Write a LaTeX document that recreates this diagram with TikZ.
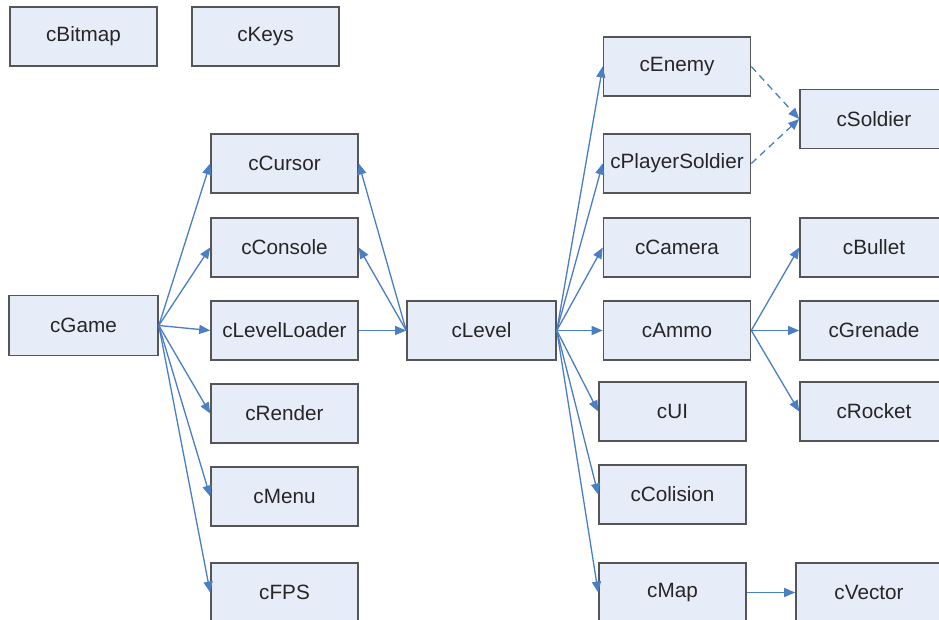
\documentclass[tikz,border=0pt]{standalone}
\usepackage{fontspec}
\setmainfont{Liberation Sans}
\usetikzlibrary{arrows.meta}
\definecolor{boxfill}{HTML}{E7EDF8}
\definecolor{boxline}{HTML}{555555}
\definecolor{linkblue}{HTML}{4A7EC5}
\tikzset{
  cls/.style={draw=boxline, line width=1.6pt, fill=boxfill,
    minimum width=147pt, minimum height=59pt, inner sep=0pt,
    font=\fontsize{20.7}{24}\selectfont, text=black!85},
  link/.style={draw=linkblue, line width=1.3pt,
    -{Triangle[length=11pt,width=9pt]}},
  derive/.style={link, dashed, dash pattern=on 7pt off 5pt}
}
\begin{document}
\begin{tikzpicture}[x=1pt,y=-1pt]
\useasboundingbox (0,0) rectangle (939,620);
\clip (0,0) rectangle (939,620);
\fill[white] (0,0) rectangle (939,620);

% standalone classes
\node[cls] (bitmap) at (83.5,36.5) {cBitmap};
\node[cls] (keys) at (265.5,36.5) {cKeys};

% game and its parts
\node[cls, minimum width=149pt, minimum height=60pt] (game) at (83.5,325.5) {cGame};
\node[cls] (cursor) at (284.5,163.5) {cCursor};
\node[cls] (console) at (284.5,247.5) {cConsole};
\node[cls] (loader) at (284.5,330.5) {cLevelLoader};
\node[cls] (render) at (284.5,413.5) {cRender};
\node[cls] (menu) at (284.5,496.5) {cMenu};
\node[cls] (fps) at (284.5,592.5) {cFPS};

% level and its parts
\node[cls, minimum width=149pt] (level) at (481.5,330.5) {cLevel};
\node[cls] (enemy) at (677,66.5) {cEnemy};
\node[cls] (player) at (677,163.5) {cPlayerSoldier};
\node[cls] (camera) at (677,247.5) {cCamera};
\node[cls] (ammo) at (677,330.5) {cAmmo};
\node[cls] (ui) at (672.5,411.5) {cUI};
\node[cls] (colision) at (672.5,494.5) {cColision};
\node[cls] (map) at (672.5,592.5) {cMap};

\node[cls, minimum width=148pt] (soldier) at (874,119) {cSoldier};
\node[cls, minimum width=148pt] (bullet) at (874,247.5) {cBullet};
\node[cls, minimum width=148pt] (grenade) at (874,330.5) {cGrenade};
\node[cls, minimum width=148pt] (rocket) at (874,411.5) {cRocket};
\node[cls, minimum width=146pt] (vector) at (869,592.5) {cVector};

% game composition
\coordinate (gameout) at (game.east);
\foreach \t in {cursor,console,loader,render,menu,fps}
  \draw[link] (gameout) -- (\t.west);

% level composition
\draw[link] (loader.east) -- (level.west);
\draw[link] (level.west) -- (cursor.east);
\draw[link] (level.west) -- (console.east);
\foreach \t in {enemy,player,camera,ammo,ui,colision,map}
  \draw[link] (level.east) -- (\t.west);

% ammo types and map
\foreach \t in {bullet,grenade,rocket}
  \draw[link] (ammo.east) -- (\t.west);
\draw[link] (map.east) -- (vector.west);

% inheritance
\draw[derive] (enemy.east) -- (soldier.west);
\draw[derive] (player.east) -- (soldier.west);
\end{tikzpicture}
\end{document}
